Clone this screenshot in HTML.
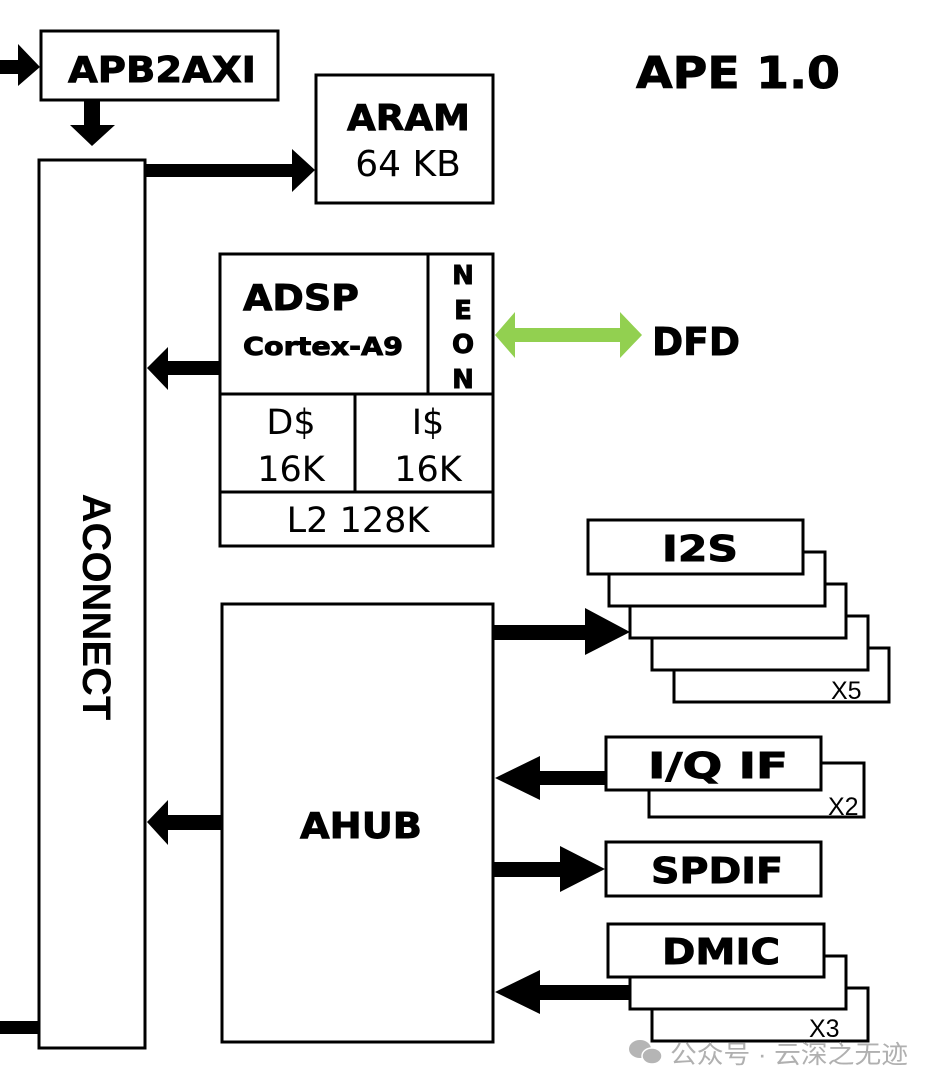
<!DOCTYPE html>
<html><head><meta charset="utf-8"><style>
html,body{margin:0;padding:0;background:#fff;}
svg{display:block;}
.b{font-family:"DejaVu Sans","Liberation Sans",sans-serif;font-weight:bold;fill:#000;stroke:#000;stroke-width:0.9;}
.n{font-family:"DejaVu Sans","Liberation Sans",sans-serif;fill:#000;}
.a{font-family:"Liberation Sans",Arial,sans-serif;}
</style></head><body>
<svg width="940" height="1090" viewBox="0 0 940 1090" xmlns="http://www.w3.org/2000/svg">
<g fill="#fff" stroke="#000" stroke-width="3">
<rect x="41" y="31" width="237" height="69"/>
<rect x="316" y="75" width="177" height="128"/>
<rect x="39" y="160" width="106" height="888"/>
<rect x="220" y="254" width="273" height="292"/>
<line x1="428" y1="254" x2="428" y2="394"/>
<line x1="220" y1="394" x2="493" y2="394"/>
<line x1="355" y1="394" x2="355" y2="492"/>
<line x1="220" y1="492" x2="493" y2="492"/>
<rect x="222" y="604" width="271" height="438"/>
<rect x="674" y="648" width="215" height="54"/>
<rect x="652" y="616" width="216" height="54"/>
<rect x="630" y="584" width="216" height="54"/>
<rect x="609" y="552" width="216" height="54"/>
<rect x="588" y="520" width="215" height="54"/>
<rect x="649" y="763" width="215" height="54"/>
<rect x="606" y="737" width="215" height="53"/>
<rect x="606" y="842" width="215" height="54"/>
<rect x="652" y="988" width="216" height="53"/>
<rect x="630" y="956" width="216" height="53"/>
<rect x="608" y="924" width="216" height="53"/>
</g>
<g fill="#000">
<rect x="0" y="60" width="20" height="14"/><polygon points="18,44 40,67 18,86"/>
<rect x="84" y="100" width="16" height="26"/><polygon points="70,125 115,125 92,146"/>
<rect x="145" y="164" width="150" height="13"/><polygon points="292,149 315,170 292,192"/>
<rect x="166" y="361" width="54" height="14"/><polygon points="168,347 147,368 168,390"/>
<rect x="166" y="815" width="56" height="15"/><polygon points="168,800 147,822 168,845"/>
<rect x="0" y="1021" width="39" height="13"/>
<rect x="493" y="625" width="95" height="15"/><polygon points="585,608 630,632 585,655"/>
<rect x="538" y="771" width="68" height="14"/><polygon points="540,756 495,778 540,800"/>
<rect x="493" y="862" width="70" height="15"/><polygon points="560,846 605,869 560,892"/>
<rect x="538" y="985" width="92" height="15"/><polygon points="540,970 495,992 540,1014"/>
</g>
<polygon fill="#92d050" points="495,335 515,312 515,328 620,328 620,312 642,335 620,358 620,342 515,342 515,358"/>
<text class="b" x="68" y="82" font-size="36" textLength="188" lengthAdjust="spacingAndGlyphs">APB2AXI</text>
<text class="b" x="636" y="88" font-size="44" textLength="204" lengthAdjust="spacingAndGlyphs">APE 1.0</text>
<text class="b" x="347" y="130" font-size="36" textLength="123" lengthAdjust="spacingAndGlyphs">ARAM</text>
<text class="n" x="408" y="176" font-size="36" text-anchor="middle">64 KB</text>
<text class="b" x="243" y="310" font-size="36" textLength="116" lengthAdjust="spacingAndGlyphs">ADSP</text>
<text class="b" x="243" y="355" font-size="25" textLength="160" lengthAdjust="spacingAndGlyphs">Cortex-A9</text>
<g class="b" font-size="26" text-anchor="middle">
<text x="463" y="284">N</text><text x="463" y="319">E</text><text x="463" y="353">O</text><text x="463" y="388">N</text>
</g>
<text class="b" x="652" y="355" font-size="38" textLength="88" lengthAdjust="spacingAndGlyphs">DFD</text>
<text class="n" x="291" y="434" font-size="35" text-anchor="middle">D$</text>
<text class="n" x="291" y="481" font-size="35" text-anchor="middle">16K</text>
<text class="n" x="428" y="434" font-size="35" text-anchor="middle">I$</text>
<text class="n" x="428" y="481" font-size="35" text-anchor="middle">16K</text>
<text class="n" x="358" y="532" font-size="35" text-anchor="middle">L2 128K</text>
<text class="a" font-weight="bold" font-size="40" transform="translate(83,607) rotate(90)" text-anchor="middle">ACONNECT</text>
<text class="b" x="300" y="838" font-size="36" textLength="122" lengthAdjust="spacingAndGlyphs">AHUB</text>
<text class="b" x="662" y="561" font-size="36" textLength="76" lengthAdjust="spacingAndGlyphs">I2S</text>
<text class="b" x="648" y="778" font-size="36" textLength="140" lengthAdjust="spacingAndGlyphs">I/Q IF</text>
<text class="b" x="651" y="883" font-size="36" textLength="132" lengthAdjust="spacingAndGlyphs">SPDIF</text>
<text class="b" x="662" y="964" font-size="36" textLength="118" lengthAdjust="spacingAndGlyphs">DMIC</text>
<g class="a" font-size="25" fill="#000">
<text x="831" y="699">X5</text>
<text x="828" y="815">X2</text>
<text x="809" y="1037">X3</text>
</g>
<g fill="#b5b5b5">
<ellipse cx="640" cy="1049" rx="11" ry="9"/>
<ellipse cx="652" cy="1056" rx="10" ry="8" stroke="#fff" stroke-width="1.5"/>
</g>
<text x="670" y="1063" font-size="25" fill="#b0b0b0" textLength="238" lengthAdjust="spacingAndGlyphs" font-family="'Liberation Sans','Noto Sans CJK SC',sans-serif">公众号 · 云深之无迹</text>
</svg>
</body></html>
